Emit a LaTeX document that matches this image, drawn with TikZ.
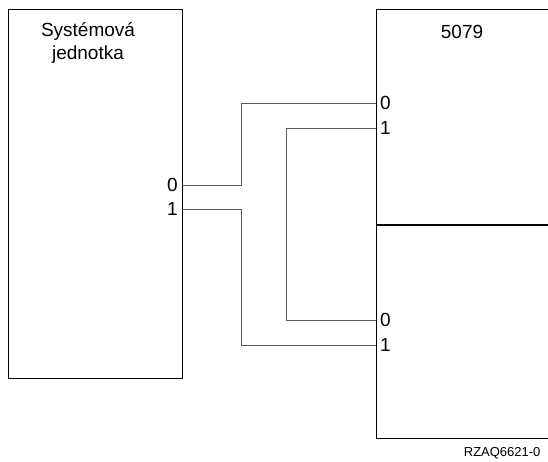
\documentclass[tikz,border=0pt]{standalone}
\usepackage{fontspec}
\setmainfont{Liberation Sans}
\usetikzlibrary{positioning}

\begin{document}
\begin{tikzpicture}[x=1pt, y=-1pt, box/.style = {draw, line width=0.9pt, minimum width=174pt, minimum height=369pt, inner sep=0pt}, big/.style = {font=\fontsize{19}{22.5}\selectfont, inner sep=1pt}, wire/.style = {draw=black!65, line width=0.9pt}]
			\useasboundingbox (0,0) rectangle (548,461);
			\node[box] (sys) at (95,193.5) {};
			\node[big, align=center] (name) at (88,43) {Systémová\\jednotka};
			\draw[line width=0.9pt] (548,9) coordinate (top) -- (376,9) -- (376,438) -- (548,438) coordinate (bot);
			\draw[line width=1.6pt] (376,225) coordinate (mid) -- (548,225);
			\node[big] (unit) at (462,32) {5079};
			\coordinate (s0) at (182,185);
			\coordinate (s1) at (182,209);
			\coordinate (a0) at (376,103);
			\coordinate (a1) at (376,128);
			\coordinate (b0) at (376,320);
			\coordinate (b1) at (376,345);
			\node[big, left=3pt of s0] (ls0) {0};
			\node[big, left=3pt of s1] (ls1) {1};
			\node[big, right=3pt of a0] (la0) {0};
			\node[big, right=3pt of a1] (la1) {1};
			\node[big, right=3pt of b0] (lb0) {0};
			\node[big, right=3pt of b1] (lb1) {1};
			\draw[wire] (s0) -- ++(59,0) |- (a0);
			\draw[wire] (s1) -- ++(59,0) |- (b1);
			\draw[wire] (a1) -- ++(-90,0) |- (b0);
			\node[anchor=base east, font=\fontsize{13}{15}\selectfont] (fig) at (544,456) {RZAQ6621-0};
		\end{tikzpicture}
\end{document}
